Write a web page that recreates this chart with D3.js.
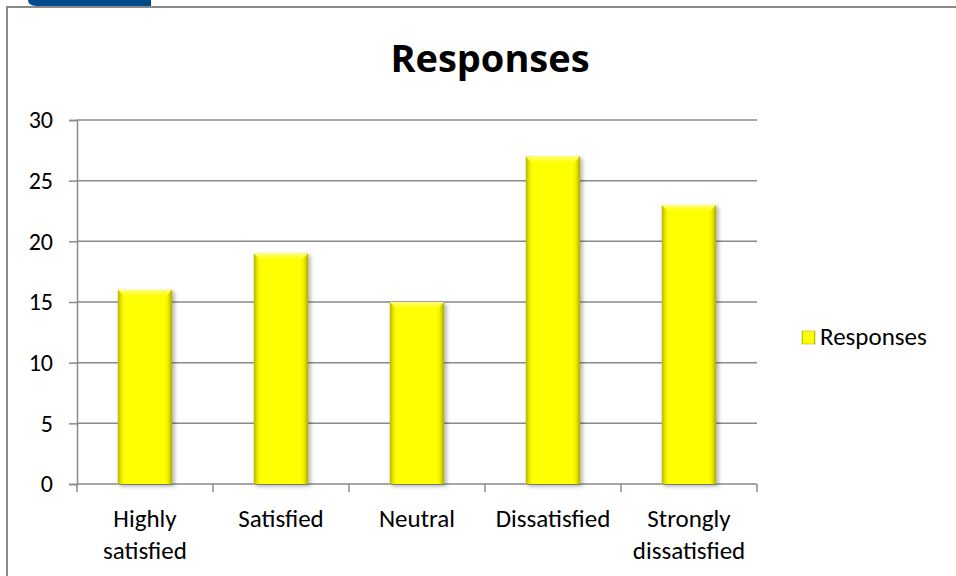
<!DOCTYPE html>
<html>
<head>
<meta charset="utf-8">
<script src="https://cdn.jsdelivr.net/npm/d3@7"></script>
<style>
  body { margin: 0; background: #fff; }
  svg { display: block; font-family: Calibri, Carlito, Lato, "Noto Sans", sans-serif; }
</style>
</head>
<body>
<script>
// chart data
var categories = [["Highly", "satisfied"], ["Satisfied"], ["Neutral"], ["Dissatisfied"], ["Strongly", "dissatisfied"]];
var responses = [16, 19, 15, 27, 23];
var yTicks = [0, 5, 10, 15, 20, 25, 30];
var seriesName = "Responses";

var width = 956,
    height = 576;

var svg = d3.select("body").append("svg")
    .attr("width", width)
    .attr("height", height);

var defs = svg.append("defs");

var side = defs.append("linearGradient").attr("id", "side")
    .attr("x1", 0).attr("x2", 1).attr("y1", 0).attr("y2", 0);
side.append("stop").attr("offset", "0%").attr("stop-color", "#b8b800");
side.append("stop").attr("offset", "8%").attr("stop-color", "#f2f200");
side.append("stop").attr("offset", "14%").attr("stop-color", "#ffff00");
side.append("stop").attr("offset", "86%").attr("stop-color", "#ffff00");
side.append("stop").attr("offset", "92%").attr("stop-color", "#eeee00");
side.append("stop").attr("offset", "100%").attr("stop-color", "#a8a800");

var topGrad = defs.append("linearGradient").attr("id", "topb")
    .attr("x1", 0).attr("x2", 0).attr("y1", 0).attr("y2", 1);
topGrad.append("stop").attr("offset", "0%").attr("stop-color", "#ffff80");
topGrad.append("stop").attr("offset", "100%").attr("stop-color", "#ffff00");

var shadow = defs.append("filter").attr("id", "shadow")
    .attr("x", "-20%").attr("y", "-10%").attr("width", "140%").attr("height", "120%");
shadow.append("feDropShadow")
    .attr("dx", 2).attr("dy", 2).attr("stdDeviation", 2)
    .attr("flood-color", "#000").attr("flood-opacity", 0.35);

// frame
svg.append("rect")
    .attr("x", 7).attr("y", 7)
    .attr("width", width + 10).attr("height", height + 10)
    .attr("fill", "#fff")
    .attr("stroke", "#8a8a8a")
    .attr("stroke-width", 2);

// blue tab at top left
svg.append("path")
    .attr("d", "M28,0 L151,0 L151,6 L38,6 Q28,6 28,0 Z")
    .attr("fill", "#004a8c");

var plot = { left: 77, right: 757, top: 120, bottom: 484 };

var x = d3.scaleBand()
    .domain(d3.range(categories.length))
    .range([plot.left, plot.right])
    .paddingInner(0.6)
    .paddingOuter(0.3);

var y = d3.scaleLinear()
    .domain([0, 30])
    .range([plot.bottom, plot.top]);

// gridlines + y axis
var yAxis = svg.append("g")
    .attr("transform", "translate(" + plot.left + ",0)")
    .call(d3.axisLeft(y).tickValues(yTicks).tickSize(8).tickPadding(16));
yAxis.select(".domain").attr("stroke", "#8a8a8a").attr("stroke-width", 1.5);
yAxis.selectAll(".tick line").attr("stroke", "#8a8a8a").attr("stroke-width", 1.5);
yAxis.selectAll(".tick text")
    .attr("font-size", 24).attr("fill", "#000")
    .style("font-family", "Calibri, Carlito, Lato, sans-serif");

svg.append("g").selectAll("line")
    .data(yTicks.filter(function(d) { return d > 0; }))
    .enter().append("line")
    .attr("x1", plot.left).attr("x2", plot.right)
    .attr("y1", function(d) { return y(d); })
    .attr("y2", function(d) { return y(d); })
    .attr("stroke", "#8a8a8a")
    .attr("stroke-width", 1.5);

// x axis with ticks at category boundaries
var boundaries = d3.range(categories.length + 1).map(function(i) { return plot.left + i * (plot.right - plot.left) / categories.length; });
svg.append("line")
    .attr("x1", plot.left).attr("x2", plot.right)
    .attr("y1", plot.bottom).attr("y2", plot.bottom)
    .attr("stroke", "#8a8a8a").attr("stroke-width", 1.5);
svg.append("g").selectAll("line")
    .data(boundaries)
    .enter().append("line")
    .attr("x1", function(d) { return d; }).attr("x2", function(d) { return d; })
    .attr("y1", plot.bottom).attr("y2", plot.bottom + 8)
    .attr("stroke", "#8a8a8a").attr("stroke-width", 1.5);

// bars
var bars = svg.append("g").selectAll("g")
    .data(responses)
    .enter().append("g");

bars.append("rect")
    .attr("x", function(d, i) { return x(i); })
    .attr("y", function(d) { return y(d); })
    .attr("width", x.bandwidth())
    .attr("height", function(d) { return plot.bottom - y(d); })
    .attr("fill", "url(#side)")
    .attr("filter", "url(#shadow)");

bars.append("path")
    .attr("d", function(d, i) {
      var x0 = x(i), x1 = x(i) + x.bandwidth(), y0 = y(d), b = 6;
      return "M" + x0 + "," + y0 + "L" + x1 + "," + y0 + "L" + (x1 - b) + "," + (y0 + b) + "L" + (x0 + b) + "," + (y0 + b) + "Z";
    })
    .attr("fill", "url(#topb)");

// category labels
var labels = svg.append("g").selectAll("text")
    .data(categories)
    .enter().append("text")
    .attr("x", function(d, i) { return x(i) + x.bandwidth() / 2; })
    .attr("y", 527)
    .attr("text-anchor", "middle")
    .attr("font-size", 25)
    .attr("fill", "#000");
labels.selectAll("tspan")
    .data(function(d) { return d; })
    .enter().append("tspan")
    .attr("x", function() { return d3.select(this.parentNode).attr("x"); })
    .attr("dy", function(d, i) { return i === 0 ? 0 : 32; })
    .text(function(d) { return d; });

// title
svg.append("text")
    .attr("x", 490).attr("y", 72)
    .attr("text-anchor", "middle")
    .attr("font-size", 38)
    .attr("font-weight", "bold")
    .style("font-family", "'Open Sans', Lato, sans-serif")
    .attr("fill", "#000")
    .text(seriesName);

// legend
var legend = svg.append("g").attr("transform", "translate(802,331)");
legend.append("rect")
    .attr("width", 13).attr("height", 13)
    .attr("fill", "url(#side)")
    .attr("stroke", "#a8a800").attr("stroke-width", 0.5);
legend.append("text")
    .attr("x", 18).attr("y", 14)
    .attr("font-size", 25)
    .attr("fill", "#000")
    .text(seriesName);
</script>
</body>
</html>
